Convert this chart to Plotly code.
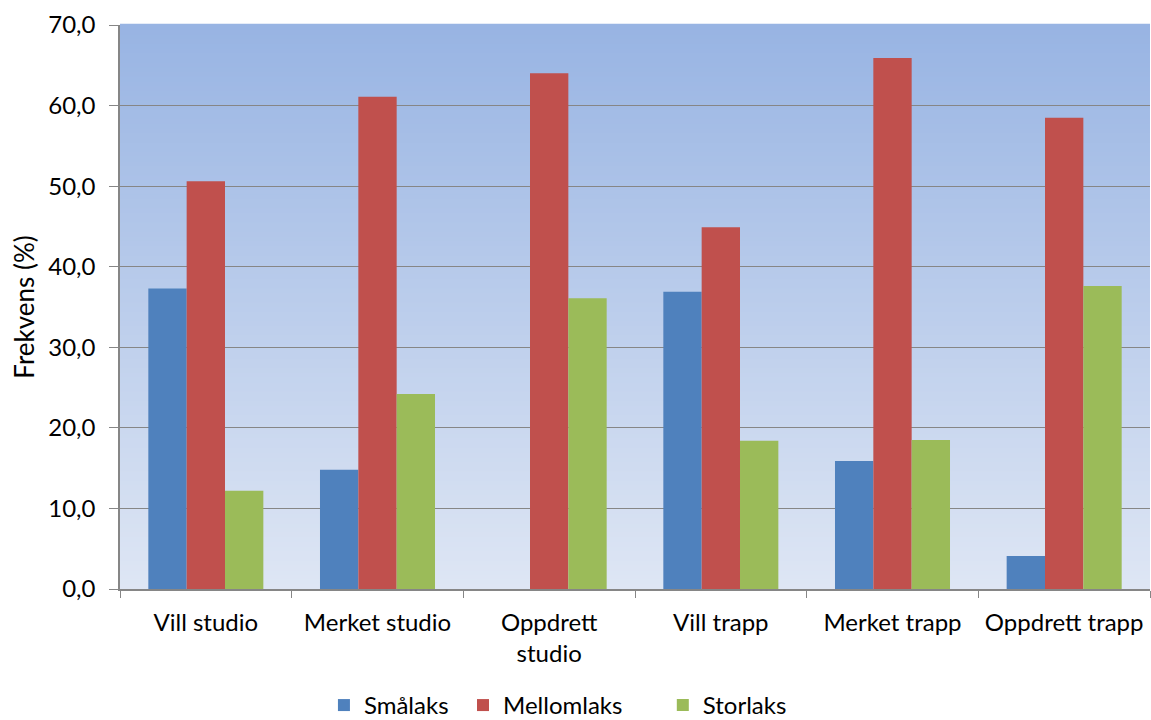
import plotly.graph_objects as go

categories = ["Vill studio", "Merket studio", "Oppdrett<br>studio", "Vill trapp", "Merket trapp", "Oppdrett trapp"]
smalaks = [37.3, 14.8, 0.0, 36.9, 15.9, 4.1]
mellomlaks = [50.6, 61.1, 64.0, 44.9, 65.9, 58.5]
storlaks = [12.2, 24.2, 36.1, 18.4, 18.5, 37.6]

FONT = "Lato"

fig = go.Figure()
series = [("Smålaks", smalaks, "#4f81bd", "legend", 0.198),
          ("Mellomlaks", mellomlaks, "#c0504d", "legend2", 0.333),
          ("Storlaks", storlaks, "#9bbb59", "legend3", 0.527)]
legends = {}
for name, vals, col, leg, lx in series:
    fig.add_trace(go.Bar(x=categories, y=vals, name=name, legend=leg,
                         marker=dict(color=col, line=dict(width=0))))
    legends[leg] = dict(orientation="h", x=lx, xanchor="left", y=-0.2065,
                        yanchor="middle", font=dict(size=24),
                        bgcolor="rgba(0,0,0,0)")

# vertical gradient for the plotting area, built from thin bands
top = (152, 180, 227)
bot = (222, 230, 244)
n = 120
shapes = []
for i in range(n):
    t = i / (n - 1)
    c = tuple(round(bot[k] + (top[k] - bot[k]) * t) for k in range(3))
    shapes.append(dict(type="rect", xref="paper", yref="paper",
                       x0=0, x1=1, y0=i / n, y1=(i + 1) / n + 0.002,
                       fillcolor="rgb(%d,%d,%d)" % c, line=dict(width=0),
                       layer="below"))

fig.update_layout(
    width=1151, height=720,
    margin=dict(l=120, r=1, t=25, b=131, autoexpand=False),
    paper_bgcolor="white", plot_bgcolor="rgba(0,0,0,0)",
    barmode="group", bargap=0.33, bargroupgap=0,
    separators=", ",
    shapes=shapes,
    font=dict(family=FONT, size=24, color="black"),
    showlegend=True,
    **legends,
)
fig.update_xaxes(tickson="boundaries", ticks="outside", ticklen=7, tickcolor="#868686",
                 showline=True, linecolor="#868686", linewidth=1.5, automargin=False,
                 tickfont=dict(size=24), showgrid=False, ticklabelstandoff=11)
fig.update_yaxes(range=[0, 70], dtick=10, tickformat=".1f", ticks="outside", ticklen=9,
                 tickcolor="#868686", showline=True, linecolor="#868686", linewidth=1.5,
                 gridcolor="#868686", gridwidth=1.3, zeroline=False, automargin=False,
                 tickfont=dict(size=24), ticklabelstandoff=9,
                 title=dict(text="Frekvens (%)", font=dict(size=26), standoff=6))

fig.write_html("out.html")
